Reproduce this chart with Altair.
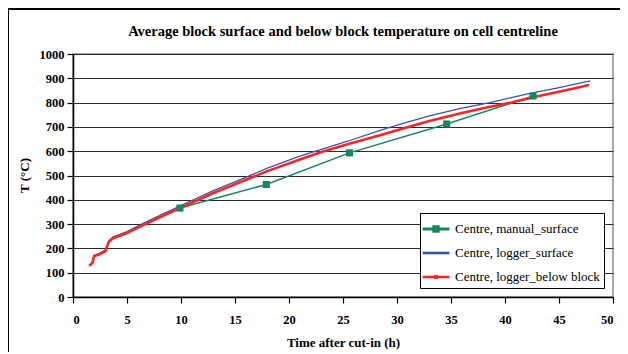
import altair as alt
import pandas as pd

series_names = ["Centre, manual_surface", "Centre, logger_surface", "Centre, logger_below block"]
series_colors = ["#13885c", "#3352b8", "#ff2424"]

manual_t = [9.9, 17.9, 25.6, 34.6, 42.6]
manual_T = [366, 463, 593, 712, 827]

surf_t = [1.5, 1.8, 1.95, 2.5, 3.0, 3.3, 3.7, 5.0, 6.5, 8.1, 9.7, 11.0, 13.0, 15.5, 18.0, 21.0, 23.0,
          25.5, 28.5, 30.4, 33.0, 36.0, 38.6, 42.0, 45.0, 47.9]
surf_T = [131, 143, 172, 181, 193, 230, 247, 269, 303, 337, 370, 397, 438, 483, 530, 580, 608,
          642, 687, 712, 745, 777, 800, 835, 862, 889]

below_t = [1.5, 1.8, 1.95, 2.5, 3.0, 3.3, 3.7, 5.0, 6.5, 8.1, 9.7, 11.0, 13.0, 15.5, 18.0, 21.0, 23.0,
           25.5, 28.5, 30.4, 33.0, 36.0, 38.5, 40.6, 42.6, 45.0, 47.8]
below_T = [128, 140, 168, 177, 189, 226, 242, 263, 296, 329, 362, 388, 428, 473, 518, 566, 597,
           630, 667, 691, 724, 757, 782, 800, 822, 845, 872]

x_ticks = list(range(0, 51, 5))
y_ticks = list(range(0, 1001, 100))

df_manual = pd.DataFrame({"t": manual_t, "T": manual_T, "series": series_names[0]})
df_surf = pd.DataFrame({"t": surf_t, "T": surf_T, "series": series_names[1]})
df_below = pd.DataFrame({"t": below_t, "T": below_T, "series": series_names[2]})

FONT = "Liberation Serif"

xenc = alt.X("t:Q", scale=alt.Scale(domain=[0, 50], nice=False),
             axis=alt.Axis(values=x_ticks, title="Time after cut-in (h)", grid=False,
                           labelPadding=10, titlePadding=11, format="d"))
yenc = alt.Y("T:Q", scale=alt.Scale(domain=[0, 1000], nice=False),
             axis=alt.Axis(values=y_ticks, title="T (°C)", grid=True, gridColor="#2a2a2a",
                           gridWidth=1, labelPadding=3, titleX=-42, titleY=121, format="d"))

color_scale = alt.Scale(domain=series_names, range=series_colors)

shape_paths = [
    "M-1.15,-0.06H1.15V0.06H-1.15Z M-0.27,-0.27H0.27V0.27H-0.27Z",
    "M-1.15,-0.05H1.15V0.05H-1.15Z",
    "M-1.15,-0.05H1.15V0.05H-1.15Z M-0.12,-0.12H0.12V0.12H-0.12Z",
]
shape_scale = alt.Scale(domain=series_names, range=shape_paths)

def line_layer(df, width):
    return alt.Chart(df).mark_line(strokeWidth=width).encode(
        x=xenc, y=yenc,
        color=alt.Color("series:N", scale=color_scale, legend=None),
    )

blue = line_layer(df_surf, 1.3)
green = line_layer(df_manual, 1.5)
red = line_layer(df_below, 2.6)

markers = alt.Chart(df_manual).mark_square(size=50, opacity=1, filled=True).encode(
    x=xenc, y=yenc,
    color=alt.Color("series:N", scale=color_scale, legend=None),
)

legend_layer = alt.Chart(df_manual).transform_filter("datum.T < 0").mark_point(
    filled=True, opacity=1).encode(
    x=xenc, y=yenc,
    color=alt.Color("series:N", scale=color_scale,
                    legend=alt.Legend(title=None, orient="none", legendX=347, legendY=159,
                                      strokeColor="black", fillColor="white", padding=4,
                                      symbolSize=484, rowPadding=5, labelOffset=7,
                                      labelFont=FONT, labelFontSize=13, labelColor="black")),
    shape=alt.Shape("series:N", scale=shape_scale),
)

frame = alt.Chart(pd.DataFrame({"k": [0]})).mark_rect(
    fill=None, stroke="black", strokeWidth=2).encode(
    x=alt.value(-65), x2=alt.value(620), y=alt.value(-45), y2=alt.value(330)
)

chart = alt.layer(legend_layer, frame, blue, green, red, markers).properties(
    width=540, height=243,
    title=alt.TitleParams("Average block surface and below block temperature on cell centreline",
                          font=FONT, fontSize=14.5, fontWeight="bold", anchor="middle",
                          frame="group", offset=14, dy=45, color="black"),
    autosize=alt.AutoSizeParams(type="none"),
    padding={"left": 65, "top": 46, "right": 7, "bottom": 55},
    background="white",
).configure_axis(
    labelFont=FONT, labelFontSize=12.5, labelFontWeight="bold", labelColor="black",
    titleFont=FONT, titleFontSize=13, titleFontWeight="bold", titleColor="black",
    domainColor="black", domainWidth=1.5, tickColor="black", tickSize=6, tickWidth=1.2,
).configure_legend(
    labelFont=FONT, labelFontSize=13, labelColor="black",
).configure_view(stroke="#a8a8a8", strokeWidth=2)

chart.save("out.html", embed_options={"renderer": "svg", "actions": False})
